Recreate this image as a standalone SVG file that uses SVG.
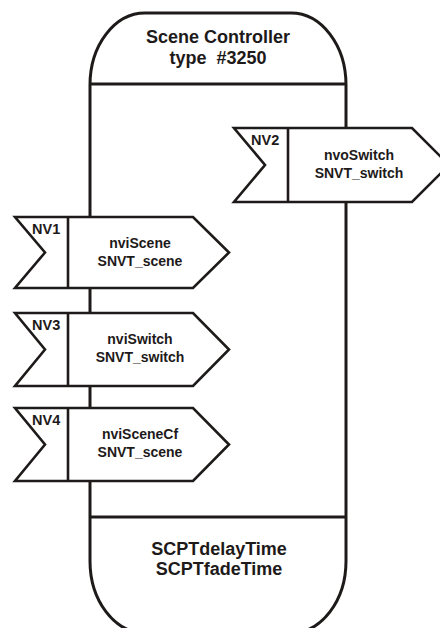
<svg xmlns="http://www.w3.org/2000/svg" width="440" height="628" viewBox="0 0 440 628">
<style>
.ln{fill:none;stroke:#1e1a1a;stroke-width:3}
.bx{fill:#fff;stroke:#1e1a1a;stroke-width:2.6;stroke-linejoin:miter}
.dv{stroke:#1e1a1a;stroke-width:2.6}
text{font-family:"Liberation Sans",Arial,sans-serif;font-weight:bold;fill:#1e1a1a}
.t{font-size:18px;text-anchor:middle}
.lb{font-size:14.5px}
.nm{font-size:14px;text-anchor:middle}
</style>
<rect width="440" height="628" fill="#fff"/>
<g id="controller">
<path class="ln" fill="#fff" d="M145,13 H291 A55,72 0 0 1 346,85 V561 A55,72 0 0 1 291,633 H145 A55,72 0 0 1 90,561 V85 A55,72 0 0 1 145,13 Z"/>
<line class="ln" x1="90" y1="84" x2="346" y2="84"/>
<line class="ln" x1="90" y1="517" x2="346" y2="517"/>
<text class="t" x="218" y="43">Scene Controller</text>
<text class="t" x="218" y="64" xml:space="preserve">type  #3250</text>
<text class="t" x="219" y="555">SCPTdelayTime</text>
<text class="t" x="219" y="575">SCPTfadeTime</text>
</g>
<g id="connectors"></g>
<g id="nv2">
<path class="bx" d="M234,128 H412 L449,165 L412,202 H234 L265,165 Z"/>
<line class="dv" x1="288" y1="128" x2="288" y2="202"/>
<text class="lb" x="251" y="145">NV2</text>
<text class="nm" x="359" y="160">nvoSwitch</text>
<text class="nm" x="359" y="178">SNVT_switch</text>
</g>
<g id="nv1">
<path class="bx" d="M15,217 H193 L229,252.5 L193,288 H15 L45,252.5 Z"/>
<line class="dv" x1="68" y1="217" x2="68" y2="288"/>
<text class="lb" x="32" y="234">NV1</text>
<text class="nm" x="140" y="248">nviScene</text>
<text class="nm" x="140" y="266">SNVT_scene</text>
</g>
<g id="nv3">
<path class="bx" d="M15,313 H193 L229,349.5 L193,386 H15 L45,349.5 Z"/>
<line class="dv" x1="68" y1="313" x2="68" y2="386"/>
<text class="lb" x="32" y="330">NV3</text>
<text class="nm" x="140" y="344">nviSwitch</text>
<text class="nm" x="140" y="362">SNVT_switch</text>
</g>
<g id="nv4">
<path class="bx" d="M15,408 H193 L229,444.5 L193,481 H15 L45,444.5 Z"/>
<line class="dv" x1="68" y1="408" x2="68" y2="481"/>
<text class="lb" x="32" y="425">NV4</text>
<text class="nm" x="140" y="439">nviSceneCf</text>
<text class="nm" x="140" y="457">SNVT_scene</text>
</g>
</svg>
